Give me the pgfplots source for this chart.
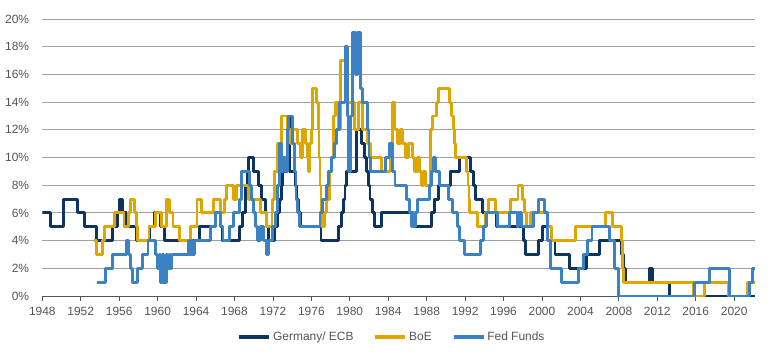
\documentclass[border=0pt]{standalone}
\usepackage{pgfplots}
\pgfplotsset{compat=1.18}
\usepackage{fontspec}
\setmainfont{Liberation Sans}
\definecolor{ger}{RGB}{12,52,94}
\definecolor{boe}{RGB}{224,166,0}
\definecolor{fed}{RGB}{58,130,196}
\definecolor{gridc}{RGB}{160,160,160}
\definecolor{txt}{RGB}{85,85,85}
\begin{document}
\begin{tikzpicture}
\useasboundingbox (-42.3bp,-58bp) rectangle (727.7bp,296bp);
\begin{axis}[
  at={(0,0)}, anchor=south west,
  scale only axis, width=713bp, height=277bp,
  xmin=1948, xmax=2022.2, ymin=0, ymax=20,
  axis x line*=bottom, axis y line*=left,
  y axis line style={draw=none},
  x axis line style={draw=txt, line width=0.8bp},
  xtick={1948,1952,...,2020},
  xticklabels={1948,1952,1956,1960,1964,1968,1972,1976,1980,1984,1988,1992,1996,2000,2004,2008,2012,2016,2020},
  ytick={0,2,...,20},
  yticklabels={0\%,2\%,4\%,6\%,8\%,10\%,12\%,14\%,16\%,18\%,20\%},
  ytick style={draw=none},
  xtick style={draw=txt, line width=0.8bp},
  tick align=outside, major tick length=5bp,
  ymajorgrids, grid style={draw=gridc, line width=0.9bp},
  tick label style={font=\fontsize{12}{14}\selectfont, text=txt},
  yticklabel style={inner sep=0pt, anchor=east, xshift=-8bp},
  xticklabel style={inner sep=0pt, anchor=north, yshift=-6bp},
  legend style={at={(0.4905,-0.148)}, anchor=center, draw=none, fill=none,
    font=\fontsize{12}{14}\selectfont, text=txt, legend columns=3,
    /tikz/every even column/.append style={column sep=18bp}},
  legend image code/.code={\draw[#1, line width=3.6bp] (0bp,0bp) -- (30bp,0bp);},
  every axis plot/.append style={line width=2.9bp, line join=round, const plot},
]
\addplot[ger] coordinates {
(1948,6) (1948.9,5) (1950.2,7) (1951.7,6) (1952.4,5) (1953.6,4) (1955.3,5) (1955.8,6)
(1956.0,7) (1956.3,6) (1956.8,5) (1957.8,4) (1959.2,5) (1959.7,6) (1960.3,5) (1960.7,4)
(1964.4,5) (1966.0,6) (1966.5,5) (1966.7,4) (1968.5,5) (1968.8,6) (1969.1,8) (1969.3,9)
(1969.5,10) (1970.0,9) (1970.5,8) (1970.8,7) (1971.2,6) (1971.3,5) (1971.5,4) (1972.2,5)
(1972.5,6) (1972.7,7) (1972.9,8) (1973.0,9) (1973.5,13) (1973.7,9) (1974.3,8) (1974.5,7)
(1974.7,6) (1974.9,5) (1977.0,4) (1978.8,5) (1979.1,6) (1979.3,7) (1979.5,8) (1979.7,9)
(1980.7,12) (1981.25,11) (1981.5,10) (1981.7,9) (1981.9,8) (1982.1,7) (1982.4,6) (1982.6,5)
(1983.3,6) (1986.6,5) (1988.5,6) (1988.8,7) (1989.2,8) (1990.5,9) (1991.4,10) (1992.6,9)
(1992.9,8) (1993.1,7) (1993.8,6) (1995.3,5) (1998.1,4) (1998.3,3) (1999.6,4) (2000.1,5)
(2000.6,4) (2001.35,3) (2002.9,2) (2004.6,3) (2006.0,4) (2008.3,3) (2008.5,2) (2008.7,1)
(2011.2,2) (2011.5,1) (2013.3,0) (2022.2,0)
};
\addplot[boe] coordinates {
(1953.4,4) (1953.6,3) (1954.3,4) (1954.5,5) (1955.5,6) (1956.5,5) (1957.0,6) (1957.2,7)
(1957.6,6) (1957.8,5) (1957.9,4) (1959.1,5) (1959.8,6) (1960.4,5) (1960.9,7) (1961.2,6)
(1961.6,5) (1962.3,4) (1963.4,5) (1964.1,7) (1964.6,6) (1965.8,7) (1966.5,6) (1967.0,7)
(1967.2,8) (1967.9,7) (1968.2,8) (1969.5,7) (1970.7,6) (1971.3,5) (1971.9,6) (1972.0,7)
(1972.2,9) (1972.5,11) (1972.9,13) (1973.5,12) (1973.8,11) (1974.0,12) (1974.6,11) (1974.9,10)
(1975.1,12) (1975.4,11) (1975.6,10) (1975.7,9) (1975.8,11) (1976.0,12) (1976.1,15) (1976.5,14)
(1976.7,12) (1976.8,10) (1976.9,8) (1977.0,7) (1977.1,5) (1977.4,6) (1977.6,7) (1977.9,9)
(1978.1,10) (1978.3,13) (1978.5,14) (1978.8,12) (1979.0,17) (1979.6,16) (1979.8,14) (1980.5,12)
(1980.9,14) (1981.3,12) (1981.8,11) (1982.2,10) (1983.3,9) (1984.2,10) (1984.4,14) (1984.7,12)
(1985.0,11) (1985.3,12) (1985.5,11) (1985.8,10) (1986.1,11) (1986.5,10) (1986.7,9) (1987.0,10)
(1987.3,9) (1987.5,8) (1987.7,9) (1987.9,8) (1988.4,12) (1988.6,13) (1989.0,14) (1989.2,15)
(1990.4,14) (1990.6,13) (1990.8,12) (1990.9,11) (1991.0,10) (1992.1,9) (1992.3,8) (1992.4,7)
(1992.5,6) (1993.3,5) (1994.1,6) (1994.4,7) (1995.2,6) (1996.7,7) (1997.5,8) (1998.0,7)
(1998.2,6) (1998.4,5) (1998.8,6) (2000.6,5) (2001.0,4) (2003.5,5) (2006.6,6) (2007.3,5)
(2008.3,4) (2008.4,2) (2008.5,1) (2015.8,0) (2016.9,1) (2019.4,0) (2021.4,1) (2022.2,1)
};
\addplot[fed] coordinates {
(1953.7,1) (1954.6,2) (1955.3,3) (1956.8,4) (1957.0,3) (1957.2,2) (1957.4,1) (1957.9,2)
(1958.4,3) (1959.0,4) (1959.8,3) (1960.0,2) (1960.2,3) (1960.3,1) (1960.5,3) (1960.6,1)
(1960.9,3) (1961.0,2) (1961.2,3) (1961.3,2) (1961.5,3) (1963.2,4) (1963.3,3) (1963.5,4)
(1963.6,3) (1963.8,4) (1965.5,5) (1966.0,6) (1966.5,5) (1966.8,4) (1967.5,5) (1967.9,6)
(1968.5,7) (1968.7,9) (1969.6,8) (1969.8,7) (1970.0,6) (1970.2,5) (1970.4,4) (1970.7,5)
(1971.0,4) (1971.3,3) (1971.5,4) (1972.0,5) (1972.3,6) (1972.5,8) (1972.7,11) (1972.9,9)
(1973.1,10) (1973.3,9) (1973.5,12) (1973.6,13) (1974.0,11) (1974.2,9) (1974.4,7) (1974.6,6)
(1974.8,5) (1976.9,6) (1977.2,7) (1977.6,8) (1977.8,9) (1978.1,10) (1978.4,11) (1978.6,12)
(1978.9,14) (1979.5,18) (1979.8,13) (1979.9,9) (1980.1,13) (1980.3,19) (1980.6,16) (1980.8,19)
(1981.1,15) (1981.3,14) (1981.8,12) (1982.0,10) (1982.2,9) (1983.7,10) (1984.1,11) (1984.4,9)
(1984.7,8) (1985.9,7) (1986.2,6) (1986.4,5) (1986.5,6) (1986.6,5) (1986.8,6) (1987.0,7)
(1988.3,8) (1988.5,9) (1988.7,10) (1988.9,9) (1989.3,8) (1990.3,7) (1990.7,6) (1991.2,5)
(1991.4,4) (1991.9,3) (1993.6,4) (1993.9,5) (1994.2,6) (1995.4,5) (1996.6,6) (1997.4,5)
(1997.6,6) (1997.9,5) (1999.1,6) (1999.6,7) (2000.3,6) (2000.6,4) (2000.9,2) (2002.0,1)
(2003.8,2) (2004.3,3) (2004.7,4) (2005.2,5) (2007.0,4) (2007.5,2) (2008.0,0) (2015.9,1)
(2017.4,2) (2019.5,0) (2021.6,1) (2021.9,2) (2022.2,2)
};
\legend{Germany/ ECB, BoE, Fed Funds}
\end{axis}
\end{tikzpicture}
\end{document}
